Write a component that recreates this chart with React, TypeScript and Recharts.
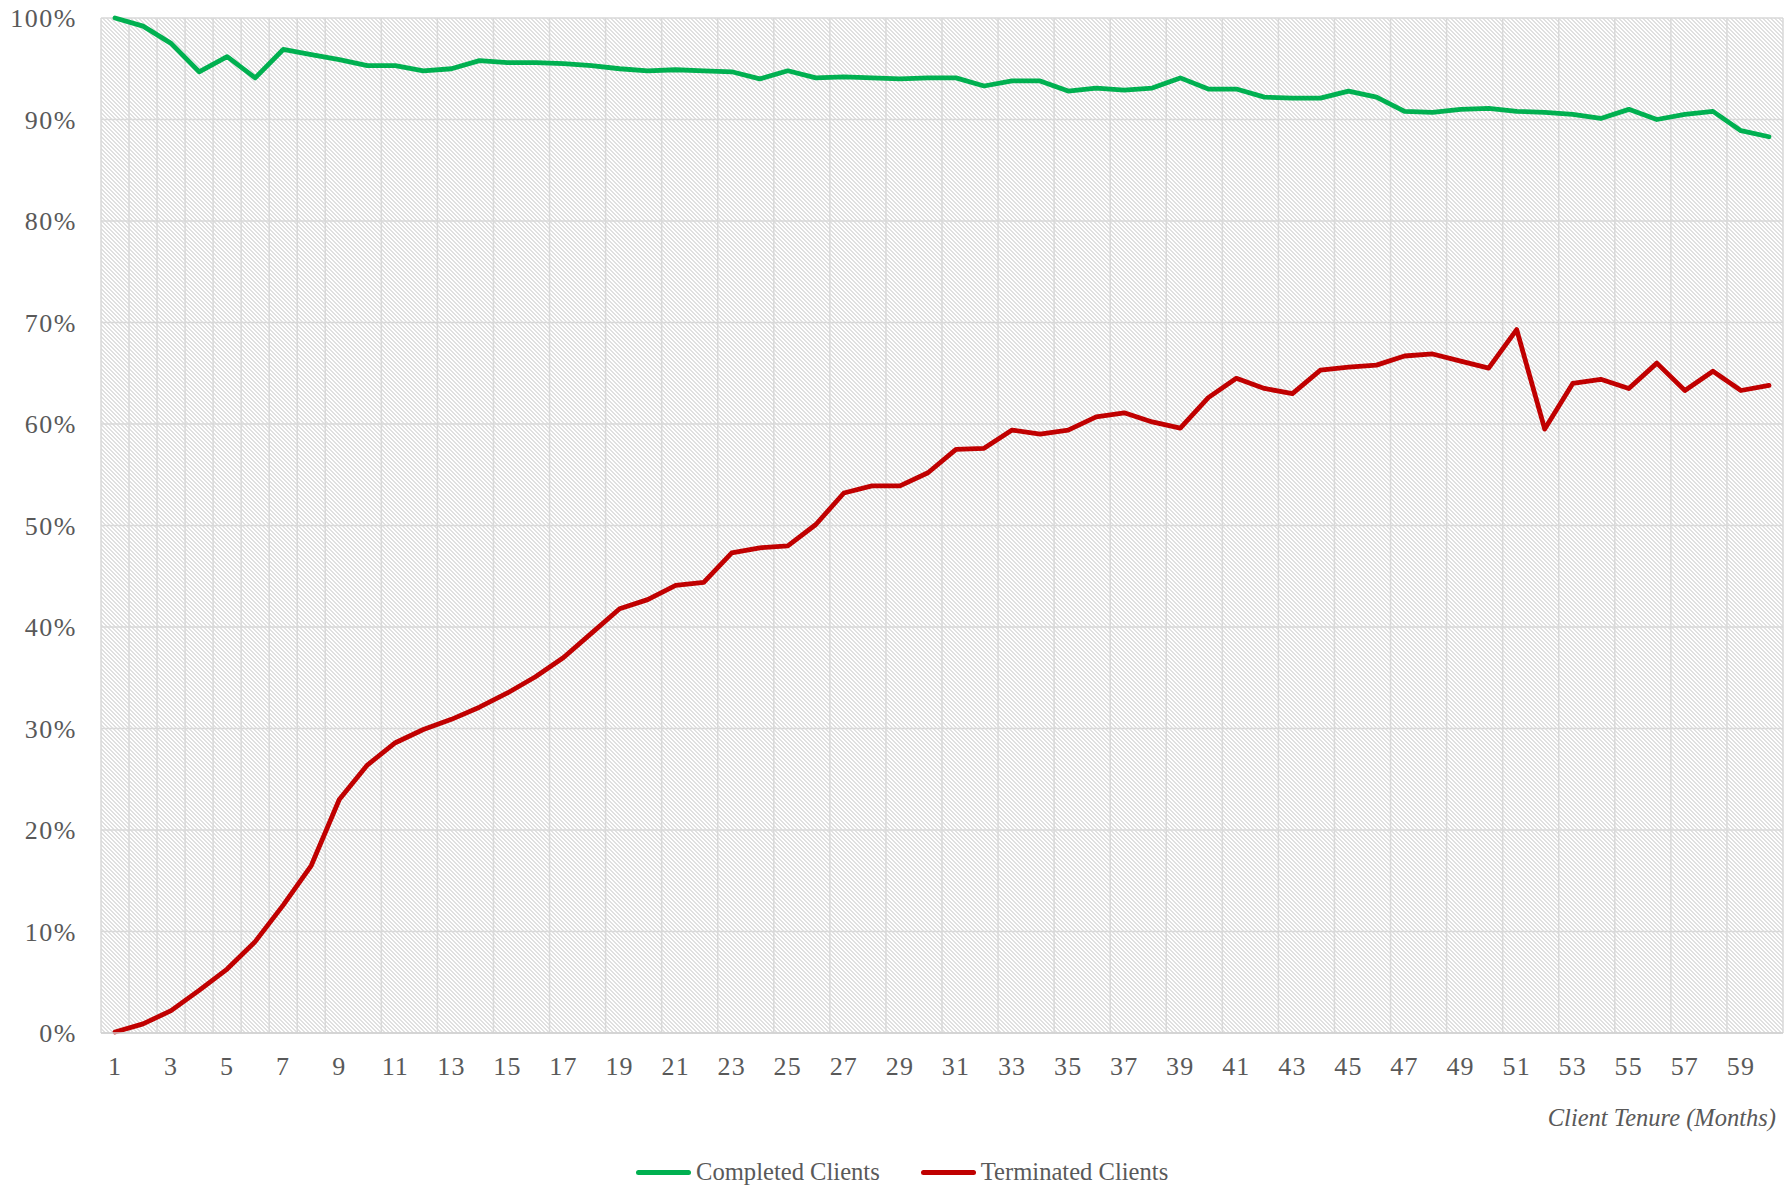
import React from 'react';
import { LineChart, Line, XAxis, YAxis, CartesianGrid } from 'recharts';

const months = [
  1, 2, 3, 4, 5, 6, 7, 8, 9, 10, 11, 12, 13, 14, 15, 16, 17, 18, 19, 20,
  21, 22, 23, 24, 25, 26, 27, 28, 29, 30, 31, 32, 33, 34, 35, 36, 37, 38, 39, 40,
  41, 42, 43, 44, 45, 46, 47, 48, 49, 50, 51, 52, 53, 54, 55, 56, 57, 58, 59, 60,
];

const completed = [
  100, 99.2, 97.5, 94.7, 96.2, 94.1, 96.9, 96.4, 95.9, 95.3,
  95.3, 94.8, 95.0, 95.8, 95.6, 95.6, 95.5, 95.3, 95.0, 94.8,
  94.9, 94.8, 94.7, 94.0, 94.8, 94.1, 94.2, 94.1, 94.0, 94.1,
  94.1, 93.3, 93.8, 93.8, 92.8, 93.1, 92.9, 93.1, 94.1, 93.0,
  93.0, 92.2, 92.1, 92.1, 92.8, 92.2, 90.8, 90.7, 91.0, 91.1,
  90.8, 90.7, 90.5, 90.1, 91.0, 90.0, 90.5, 90.8, 88.9, 88.3,
];

const terminated = [
  0.1, 0.9, 2.2, 4.2, 6.3, 9.0, 12.6, 16.5, 23.0, 26.4,
  28.6, 29.9, 30.9, 32.1, 33.5, 35.1, 37.0, 39.4, 41.8, 42.7,
  44.1, 44.4, 47.3, 47.8, 48.0, 50.1, 53.2, 53.9, 53.9, 55.2,
  57.5, 57.6, 59.4, 59.0, 59.4, 60.7, 61.1, 60.2, 59.6, 62.6,
  64.5, 63.5, 63.0, 65.3, 65.6, 65.8, 66.7, 66.9, 66.2, 65.5,
  69.3, 59.5, 64.0, 64.4, 63.5, 66.0, 63.3, 65.2, 63.3, 63.8,
];

const xTickLabels = [1, 3, 5, 7, 9, 11, 13, 15, 17, 19, 21, 23, 25, 27, 29, 31, 33, 35, 37, 39, 41, 43, 45, 47, 49, 51, 53, 55, 57, 59];
const yTicks = [0, 10, 20, 30, 40, 50, 60, 70, 80, 90, 100];

const series = [
  { key: 'completed', name: 'Completed Clients', color: '#00B050' },
  { key: 'terminated', name: 'Terminated Clients', color: '#C00000' },
];

const data = months.map((m, i) => ({ month: m, completed: completed[i], terminated: terminated[i] }));
// excel draws the vertical grid between categories
const bandEdges = [months[0] - 0.5, ...months.map(m => m + 0.5)];

const font = '"Liberation Serif", "Times New Roman", serif';
const textColor = '#595959';

export default function App() {
  return (
    <div style={{ position: 'absolute', left: 0, top: 0, width: 1790, height: 1191, background: '#fff' }}>
      <svg width={0} height={0} style={{ position: 'absolute' }}>
        <defs>
          <pattern id="hatch" width={4} height={4} patternUnits="userSpaceOnUse">
            <rect x={0} y={0} width={4} height={4} fill="#ffffff" />
            <path d="M0,0h2v1h-2z M1,1h2v1h-2z M2,2h2v1h-2z M3,3h1v1h-1z M0,3h1v1h-1z" fill="#e0e0e0" shapeRendering="crispEdges" />
          </pattern>
        </defs>
      </svg>
      <LineChart width={1790} height={1191} data={data} margin={{ top: 18, right: 7, bottom: 58, left: 0 }}>
        <CartesianGrid xAxisId="grid" stroke="#d9d9d9" strokeWidth={1.5} fill="url(#hatch)" fillOpacity={1} />
        <XAxis
          xAxisId="grid"
          dataKey="month"
          type="number"
          domain={[bandEdges[0], bandEdges[bandEdges.length - 1]]}
          ticks={bandEdges}
          hide
        />
        <XAxis
          dataKey="month"
          type="number"
          domain={[bandEdges[0], bandEdges[bandEdges.length - 1]]}
          ticks={xTickLabels}
          interval={0}
          height={100}
          tickSize={0}
          tickMargin={24}
          tickLine={false}
          axisLine={{ stroke: '#d0d0d0', strokeWidth: 1.5 }}
          tick={{ fill: textColor, fontSize: 26, fontFamily: font, letterSpacing: 1.2 }}
          label={{
            value: 'Client Tenure (Months)',
            position: 'insideBottomRight',
            offset: 7,
            fill: textColor,
            fontSize: 24.5,
            fontStyle: 'italic',
            fontFamily: font,
          }}
        />
        <YAxis
          domain={[0, 100]}
          ticks={yTicks}
          width={101}
          tickSize={0}
          tickMargin={24}
          axisLine={false}
          tickLine={false}
          tickFormatter={(v: number) => `${v}%`}
          tick={{ fill: textColor, fontSize: 26, fontFamily: font, letterSpacing: 1.5 }}
        />
        {series.map(s => (
          <Line
            key={s.key}
            xAxisId={0}
            type="linear"
            dataKey={s.key}
            name={s.name}
            stroke={s.color}
            strokeWidth={4.8}
            strokeLinejoin="round"
            strokeLinecap="round"
            dot={false}
            activeDot={false}
            isAnimationActive={false}
          />
        ))}
      </LineChart>
      <div
        style={{
          position: 'absolute',
          left: 636,
          top: 1172,
          transform: 'translateY(-50%)',
          display: 'flex',
          alignItems: 'center',
          gap: 41,
          fontFamily: font,
          fontSize: 24.6,
          color: textColor,
          whiteSpace: 'nowrap',
        }}
      >
        {series.map(s => (
          <div key={s.key} style={{ display: 'flex', alignItems: 'center', gap: 5 }}>
            <span style={{ display: 'inline-block', width: 55, height: 5, borderRadius: 3, background: s.color }} />
            <span>{s.name}</span>
          </div>
        ))}
      </div>
    </div>
  );
}
